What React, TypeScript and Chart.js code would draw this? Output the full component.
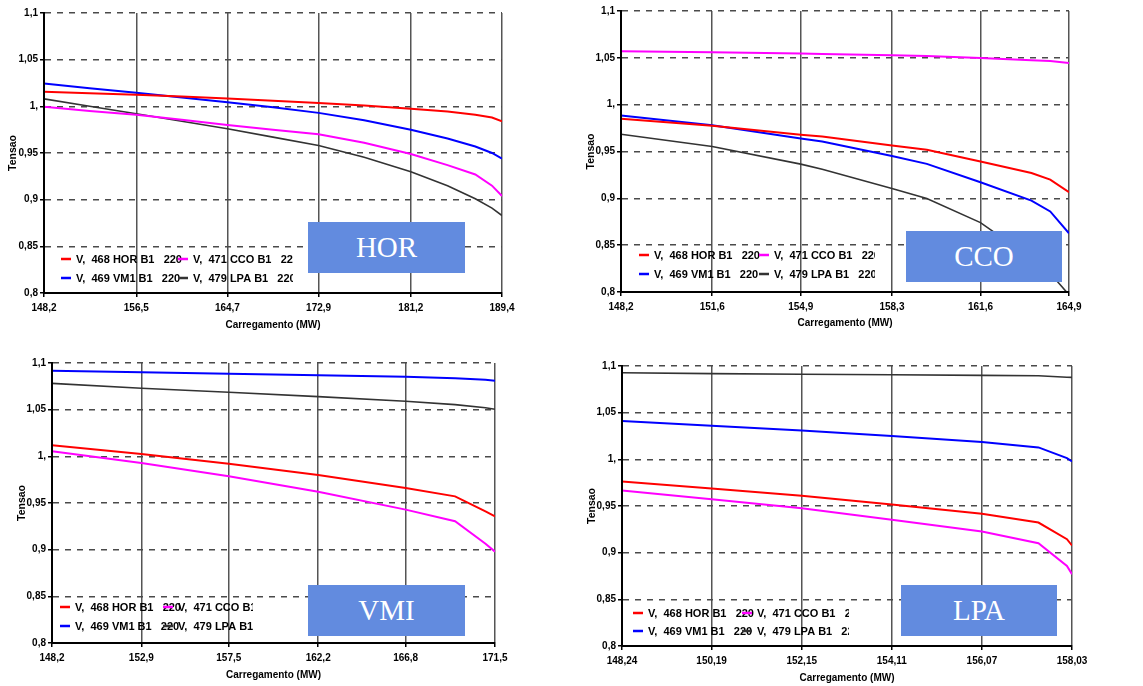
import React, { useEffect, useRef } from "react";
import { Chart, registerables } from "chart.js";

Chart.register(...registerables);

const FONT = "'Liberation Sans', Arial, sans-serif";

// ---------- shared axis data ----------
const Y_TICKS = [0.8, 0.85, 0.9, 0.95, 1.0, 1.05, 1.1];
const Y_TICK_LABELS = ["0,8", "0,85", "0,9", "0,95", "1,", "1,05", "1,1"];
const X_TITLE = "Carregamento (MW)";
const Y_TITLE = "Tensao";
const SERIES_LABELS = {
  v468: "V,  468 HOR B1   220",
  v469: "V,  469 VM1 B1   220",
  v471: "V,  471 CCO B1   220",
  v479: "V,  479 LPA B1   220",
};

// ---------- HOR panel ----------
const HOR_TICKS = [148.2, 156.5, 164.7, 172.9, 181.2, 189.4];
const HOR_X = [148.2, 152.3, 156.5, 160.6, 164.7, 168.8, 172.9, 177.0, 181.2, 184.5, 187.0, 188.5, 189.4];
const HOR_V468 = [1.0155, 1.014, 1.0125, 1.0105, 1.0085, 1.006, 1.0037, 1.001, 0.9975, 0.9945, 0.991, 0.988, 0.984];
const HOR_V469 = [1.0245, 1.0195, 1.0145, 1.0095, 1.0045, 0.999, 0.993, 0.985, 0.975, 0.9655, 0.957, 0.95, 0.944];
const HOR_V471 = [0.9995, 0.995, 0.991, 0.9855, 0.98, 0.975, 0.97, 0.961, 0.949, 0.937, 0.927, 0.915, 0.904];
const HOR_V479 = [1.008, 1.0, 0.992, 0.984, 0.976, 0.967, 0.958, 0.9455, 0.93, 0.915, 0.901, 0.891, 0.883];

// ---------- CCO panel ----------
const CCO_TICKS = [148.2, 151.6, 154.9, 158.3, 161.6, 164.9];
const CCO_X = [148.2, 151.6, 154.9, 155.7, 158.3, 159.6, 161.6, 163.5, 164.2, 164.9];
const CCO_V468 = [0.985, 0.9775, 0.968, 0.966, 0.9565, 0.9518, 0.9393, 0.927, 0.92, 0.9066];
const CCO_V469 = [0.9885, 0.978, 0.964, 0.9607, 0.9452, 0.9368, 0.9172, 0.8975, 0.886, 0.8627];
const CCO_V471 = [1.057, 1.0559, 1.0545, 1.054, 1.0527, 1.052, 1.0498, 1.0475, 1.0465, 1.0445];
const CCO_V479 = [0.9685, 0.9554, 0.9365, 0.931, 0.9105, 0.8998, 0.8741, 0.836, 0.82, 0.797];

// ---------- VMI panel ----------
const VMI_TICKS = [148.2, 152.9, 157.5, 162.2, 166.8, 171.5];
const VMI_X = [148.2, 152.9, 157.5, 162.2, 166.8, 169.4, 171.0, 171.5];
const VMI_V468 = [1.0118, 1.0025, 0.9921, 0.98, 0.9661, 0.9571, 0.941, 0.9357];
const VMI_V469 = [1.0918, 1.0902, 1.0885, 1.087, 1.0852, 1.0836, 1.082, 1.081];
const VMI_V471 = [1.0054, 0.9929, 0.9786, 0.9621, 0.9429, 0.9304, 0.9064, 0.8979];
const VMI_V479 = [1.0782, 1.0729, 1.0686, 1.064, 1.059, 1.0554, 1.052, 1.0504];

// ---------- LPA panel ----------
const LPA_TICKS = [148.24, 150.19, 152.15, 154.11, 156.07, 158.03];
const LPA_X = [148.24, 150.19, 152.15, 154.11, 156.07, 157.3, 157.92, 158.03];
const LPA_V468 = [0.9763, 0.9688, 0.9609, 0.9516, 0.9416, 0.9323, 0.9144, 0.9077];
const LPA_V469 = [1.041, 1.036, 1.031, 1.0249, 1.0185, 1.0128, 1.0013, 0.9977];
const LPA_V471 = [0.9666, 0.9573, 0.9477, 0.9352, 0.9227, 0.9102, 0.8858, 0.8769];
const LPA_V479 = [1.0928, 1.0918, 1.0912, 1.0906, 1.09, 1.0896, 1.088, 1.0878];

// ---------- styles ----------
const COLORS = { v468: "#ff0000", v469: "#0000ff", v471: "#ff00ff", v479: "#333333" };
const WIDTHS = { v468: 2, v469: 2, v471: 2, v479: 1.6 };
const BOX_COLOR = "#628bdf";

type Panel = {
  name: string;
  left: number;
  top: number;
  width: number;
  height: number;
  area: { l: number; r: number; t: number; b: number };
  yTitleX: number;
  xTitleOffset: number;
  ticks: number[];
  x: number[];
  series: { v468: number[]; v469: number[]; v471: number[]; v479: number[] };
  legend: { x: number; y: number; rowGap: number; colWidth: number; clipRight: number };
  box: { left: number; top: number; w: number; h: number };
};

const PANELS: Panel[] = [
  {
    name: "HOR",
    left: 0, top: 0, width: 570, height: 340,
    area: { l: 44, r: 502, t: 13, b: 293 },
    yTitleX: 13, xTitleOffset: 15,
    ticks: HOR_TICKS, x: HOR_X,
    series: { v468: HOR_V468, v469: HOR_V469, v471: HOR_V471, v479: HOR_V479 },
    legend: { x: 61, y: 259, rowGap: 19, colWidth: 117, clipRight: 293 },
    box: { left: 308, top: 222, w: 157, h: 51 },
  },
  {
    name: "CCO",
    left: 570, top: 0, width: 573, height: 340,
    area: { l: 51, r: 499, t: 11, b: 292 },
    yTitleX: 21, xTitleOffset: 17,
    ticks: CCO_TICKS, x: CCO_X,
    series: { v468: CCO_V468, v469: CCO_V469, v471: CCO_V471, v479: CCO_V479 },
    legend: { x: 69, y: 255, rowGap: 19, colWidth: 120, clipRight: 305 },
    box: { left: 906, top: 231, w: 156, h: 51 },
  },
  {
    name: "VMI",
    left: 0, top: 340, width: 570, height: 346,
    area: { l: 52, r: 495, t: 23, b: 303 },
    yTitleX: 22, xTitleOffset: 11,
    ticks: VMI_TICKS, x: VMI_X,
    series: { v468: VMI_V468, v469: VMI_V469, v471: VMI_V471, v479: VMI_V479 },
    legend: { x: 60, y: 267, rowGap: 19, colWidth: 103, clipRight: 253 },
    box: { left: 308, top: 585, w: 157, h: 51 },
  },
  {
    name: "LPA",
    left: 570, top: 340, width: 573, height: 346,
    area: { l: 52, r: 502, t: 26, b: 306 },
    yTitleX: 22, xTitleOffset: 8,
    ticks: LPA_TICKS, x: LPA_X,
    series: { v468: LPA_V468, v469: LPA_V469, v471: LPA_V471, v479: LPA_V479 },
    legend: { x: 63, y: 273, rowGap: 18, colWidth: 109, clipRight: 279 },
    box: { left: 901, top: 585, w: 156, h: 51 },
  },
];

const insideLegend = {
  id: "insideLegend",
  afterDatasetsDraw(chart: any, _args: any, opts: any) {
    if (!opts || !opts.items) return;
    const { ctx } = chart;
    ctx.save();
    ctx.font = `bold 11px ${FONT}`;
    ctx.textBaseline = "middle";
    ctx.textAlign = "left";
    opts.items.forEach((it: any, i: number) => {
      const col = i % 2;
      const row = Math.floor(i / 2);
      const x0 = opts.x + col * opts.colWidth;
      const y0 = opts.y + row * opts.rowGap;
      ctx.save();
      ctx.strokeStyle = it.color;
      ctx.lineWidth = 2.5;
      ctx.beginPath();
      ctx.moveTo(x0, y0);
      ctx.lineTo(x0 + 10, y0);
      ctx.stroke();
      ctx.restore();
      ctx.save();
      if (col === 1) {
        ctx.beginPath();
        ctx.rect(x0, y0 - 10, opts.clipRight - x0, 20);
        ctx.clip();
      }
      ctx.fillStyle = "#000";
      ctx.fillText(it.label, x0 + 15, y0 + 0.5);
      ctx.restore();
    });
    ctx.restore();
  },
};

function fmt(v: number) {
  return String(v).replace(".", ",");
}

function PanelChart({ p }: { p: Panel }) {
  const ref = useRef<HTMLCanvasElement | null>(null);
  useEffect(() => {
    if (!ref.current) return;
    const keys: Array<"v468" | "v469" | "v471" | "v479"> = ["v468", "v469", "v471", "v479"];
    const datasets = keys.map((k) => ({
      label: SERIES_LABELS[k],
      data: p.x.map((xv, i) => ({ x: xv, y: p.series[k][i] })),
      borderColor: COLORS[k],
      backgroundColor: COLORS[k],
      borderWidth: WIDTHS[k],
      pointRadius: 0,
      tension: 0,
      fill: false,
    }));
    const tickFont = { size: 10, weight: "bold" as const, family: FONT };
    const chart = new Chart(ref.current, {
      type: "line",
      data: { datasets },
      plugins: [insideLegend],
      options: {
        animation: false,
        responsive: false,
        maintainAspectRatio: false,
        layout: { padding: { left: 0, top: p.area.t, right: p.width - p.area.r, bottom: 0 } },
        plugins: {
          legend: { display: false },
          tooltip: { enabled: false },
          insideLegend: {
            ...p.legend,
            items: [
              { label: SERIES_LABELS.v468, color: COLORS.v468 },
              { label: SERIES_LABELS.v471, color: COLORS.v471 },
              { label: SERIES_LABELS.v469, color: COLORS.v469 },
              { label: SERIES_LABELS.v479, color: COLORS.v479 },
            ],
          },
        } as any,
        scales: {
          x: {
            type: "linear",
            min: p.ticks[0],
            max: p.ticks[p.ticks.length - 1],
            afterBuildTicks: (s: any) => {
              s.ticks = p.ticks.map((v) => ({ value: v }));
            },
            afterFit: (s: any) => {
              s.height = p.height - p.area.b;
            },
            ticks: {
              autoSkip: false,
              maxRotation: 0,
              minRotation: 0,
              padding: 5,
              color: "#000",
              font: tickFont,
              callback: (v: any) => fmt(Number(v)),
            },
            grid: {
              color: (c: any) => (c.index === 0 ? "rgba(0,0,0,0)" : "#555"),
              lineWidth: 1.5,
              tickLength: 4,
              tickColor: "#000",
              tickWidth: 1.5,
            },
            border: { color: "#000", width: 2, z: 1 },
            title: {
              display: true,
              text: X_TITLE,
              color: "#000",
              font: { size: 10, weight: "bold", family: FONT, lineHeight: 1.2 },
              padding: { top: 0, bottom: p.xTitleOffset - 6 },
            },
          },
          y: {
            type: "linear",
            min: 0.8,
            max: 1.1,
            afterBuildTicks: (s: any) => {
              s.ticks = Y_TICKS.map((v) => ({ value: v }));
            },
            afterFit: (s: any) => {
              s.width = p.area.l;
            },
            ticks: {
              autoSkip: false,
              padding: 2,
              color: "#000",
              font: tickFont,
              callback: (_v: any, i: number) => Y_TICK_LABELS[i],
            },
            grid: {
              color: (c: any) => (c.index === 0 ? "rgba(0,0,0,0)" : "#4a4a4a"),
              lineWidth: 1.5,
              tickLength: 4,
              tickColor: "#000",
              tickWidth: 1.5,
            },
            border: { color: "#000", width: 2, z: 1, dash: [6, 6] },
            title: {
              display: true,
              text: Y_TITLE,
              color: "#000",
              font: { size: 10.5, weight: "bold", family: FONT, lineHeight: 1.2 },
              padding: { top: p.yTitleX - 6.3, bottom: 0 },
            },
          },
        },
      } as any,
    });
    return () => chart.destroy();
  }, [p]);
  return (
    <div style={{ position: "absolute", left: p.left, top: p.top, width: p.width, height: p.height }}>
      <canvas ref={ref} width={p.width} height={p.height} style={{ display: "block" }} />
    </div>
  );
}

export default function App() {
  return (
    <div style={{ position: "absolute", left: 0, top: 0, width: 1143, height: 686, background: "#fff", overflow: "hidden" }}>
      {PANELS.map((p) => (
        <PanelChart key={p.name} p={p} />
      ))}
      {PANELS.map((p) => (
        <div
          key={"box-" + p.name}
          style={{
            position: "absolute",
            left: p.box.left,
            top: p.box.top,
            width: p.box.w,
            height: p.box.h,
            background: BOX_COLOR,
            color: "#fff",
            fontFamily: "'Liberation Serif', 'Times New Roman', serif",
            fontSize: 29,
            display: "flex",
            alignItems: "center",
            justifyContent: "center",
            lineHeight: 1,
          }}
        >
          {p.name}
        </div>
      ))}
    </div>
  );
}
